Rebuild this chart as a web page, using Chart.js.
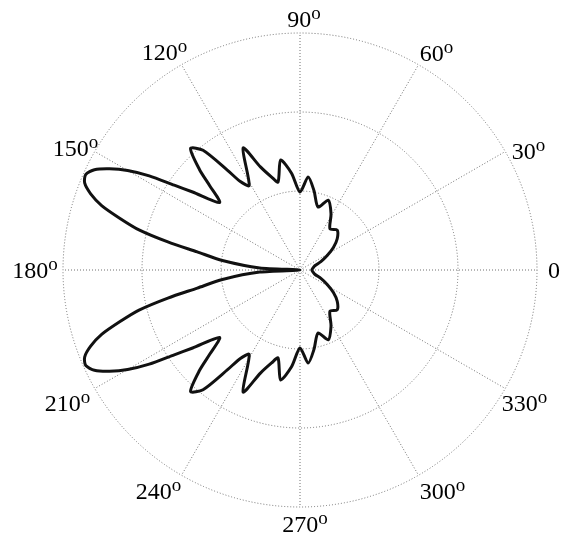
<!DOCTYPE html>
<html>
<head>
  <meta charset="UTF-8">
  <title>Polar pattern</title>
  <script src="https://cdn.jsdelivr.net/npm/chart.js"></script>
  <style>
    body { margin: 0; background: #fff; }
  </style>
</head>
<body>
  <canvas id="polar" width="565" height="538"></canvas>

  <script>
  // pattern: angle in degrees (upper half), radius as fraction of outer ring
  // the lower half is the mirror image about the 0-180 axis
  const thetaDeg = [0, 8, 16, 22, 28, 34, 40, 47, 54, 61, 68, 74, 80, 85, 90, 95, 100, 104,
    107, 111, 115, 121, 124, 126, 129, 132, 135, 137, 140, 144, 146, 148, 150, 152, 154,
    156, 158, 160, 162, 164, 166, 168, 170, 173, 177, 180];
  const radius = [0.05, 0.055, 0.065, 0.095, 0.13, 0.17, 0.205, 0.23, 0.215, 0.27, 0.318,
    0.276, 0.34, 0.394, 0.329, 0.41, 0.471, 0.383, 0.41, 0.466, 0.568, 0.416, 0.45, 0.52,
    0.65, 0.69, 0.6, 0.52, 0.443, 0.56, 0.64, 0.75, 0.84, 0.91, 0.965, 0.99, 0.98, 0.94,
    0.88, 0.79, 0.70, 0.57, 0.44, 0.33, 0.17, 0];

  // angle ticks
  const tickAngles = [0, 30, 60, 90, 120, 150, 180, 210, 240, 270, 300, 330];
  const tickText = ['0', '30', '60', '90', '120', '150', '180', '210', '240', '270', '300', '330'];

  // one radar label per degree, going clockwise from 3 o'clock
  const N = 360;
  const labels = [];
  const values = new Array(N).fill(null);
  for (let i = 0; i < N; i++) {
    const k = tickAngles.indexOf((N - i) % N);
    labels.push(k >= 0 ? tickText[k] : '');
  }
  thetaDeg.forEach((t, j) => {
    values[(N - t) % N] = radius[j]; // upper half
    values[t % N] = radius[j];       // lower half (mirror)
  });

  const isTick = i => tickAngles.includes((N - i) % N);

  // small hand nudges so the labels sit where the original ones do
  const nudge = [[-3, 0], [6, 9], [8, 6], [4, 6], [-7, 5], [-2, 6], [-8, 0],
    [-10, 4], [-13, -2], [5, -3], [14, -2], [2, 4]];

  // draws the angle labels MATLAB style: number with a raised "o"
  const angleLabels = {
    id: 'angleLabels',
    afterDraw(chart) {
      const sc = chart.scales.r;
      const ctx = chart.ctx;
      ctx.save();
      ctx.fillStyle = '#000';
      ctx.textBaseline = 'alphabetic';
      ctx.textAlign = 'left';
      tickAngles.forEach((a, k) => {
        const idx = (N - a) % N;
        const p = sc.getPointPosition(idx, sc.drawingArea + 20);
        const txt = tickText[k];
        ctx.font = '24px "Liberation Serif"';
        const w1 = ctx.measureText(txt).width;
        let w2 = 0;
        if (a !== 0) {
          ctx.font = '19px "Liberation Serif"';
          w2 = ctx.measureText('o').width;
        }
        const x0 = p.x + nudge[k][0] - (w1 + w2) / 2;
        const base = p.y + nudge[k][1] + 8;
        ctx.font = '24px "Liberation Serif"';
        ctx.fillText(txt, x0, base);
        if (a !== 0) {
          ctx.font = '19px "Liberation Serif"';
          ctx.fillText('o', x0 + w1, base - 8);
        }
      });
      ctx.restore();
    }
  };

  new Chart(document.getElementById('polar').getContext('2d'), {
    type: 'radar',
    data: {
      labels: labels,
      datasets: [{
        data: values,
        borderColor: '#111',
        borderWidth: 3,
        pointRadius: 0,
        pointHoverRadius: 0,
        fill: false,
        tension: 0.25,
        spanGaps: true
      }]
    },
    options: {
      responsive: false,
      animation: false,
      layout: { padding: { left: 63, right: 28, top: 33, bottom: 31 } },
      plugins: {
        legend: { display: false },
        tooltip: { enabled: false }
      },
      scales: {
        r: {
          min: 0,
          max: 1,
          startAngle: 90,
          ticks: { display: false, count: 4 },
          grid: { circular: true, color: '#707070', lineWidth: 1 },
          border: { dash: [1, 2] },
          angleLines: {
            color: ctx => isTick(ctx.index) ? '#707070' : 'rgba(0,0,0,0)',
            lineWidth: 1,
            borderDash: [1, 2]
          },
          pointLabels: { display: false }
        }
      }
    },
    plugins: [angleLabels]
  });
  </script>
</body>
</html>
